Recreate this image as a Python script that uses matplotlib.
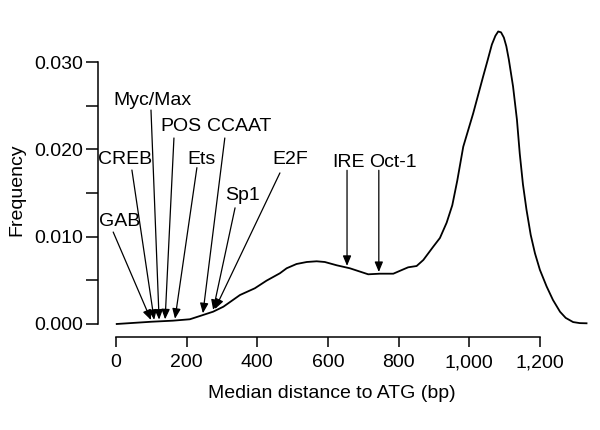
import numpy as np
import matplotlib
matplotlib.use("Agg")
import matplotlib.pyplot as plt

plt.rcParams['font.family'] = ['Liberation Sans', 'DejaVu Sans']

# Density curve: median distance to ATG (bp) vs frequency
dist = [2, 101, 161, 209, 238, 275, 304, 351, 393, 426, 464, 483, 511, 540,
        568, 591, 625, 662, 714, 747, 785, 809, 827, 851, 870, 898, 917, 936,
        952, 966, 983, 1011, 1039, 1052, 1064, 1074, 1082, 1090, 1098, 1105,
        1112, 1124, 1135, 1143, 1152, 1162, 1174, 1186, 1200, 1219, 1237, 1257,
        1273, 1294, 1313, 1332]
freq = [0.0, 0.00026, 0.00038, 0.00054, 0.00092, 0.00141, 0.00198, 0.00332,
        0.00409, 0.00496, 0.00581, 0.00638, 0.00687, 0.00710, 0.00718, 0.00710,
        0.00672, 0.00638, 0.00569, 0.00576, 0.00576, 0.00618, 0.00649, 0.00664,
        0.00733, 0.00885, 0.00985, 0.01160, 0.01360, 0.01640, 0.0203, 0.0241,
        0.0283, 0.0302, 0.0320, 0.0330, 0.0335, 0.0334, 0.0328, 0.0318, 0.0303,
        0.0272, 0.0234, 0.0195, 0.0160, 0.0131, 0.0102, 0.0081, 0.0062, 0.0043,
        0.00275, 0.0014, 0.0007, 0.00022, 0.0001, 0.00008]

# Motifs and their median distances
motifs = ['GAB', 'CREB', 'Myc/Max', 'POS', 'Ets', 'CCAAT', 'Sp1', 'E2F', 'IRE', 'Oct-1']
motif_dist = [99, 108, 122, 139, 167, 246, 275, 280, 654, 744]

x_ticks = [0, 200, 400, 600, 800, 1000, 1200]
x_ticklabels = ['0', '200', '400', '600', '800', '1,000', '1,200']
y_ticks = [0.0, 0.010, 0.020, 0.030]
y_ticklabels = ['0.000', '0.010', '0.020', '0.030']

# Layout: label centres and arrow tails (data coords)
label_pos = [(10, 0.01168), (27, 0.01878), (102, 0.02565), (184, 0.02259),
             (243, 0.01878), (348, 0.02259), (358, 0.01477), (492, 0.01878),
             (659, 0.01855), (784, 0.01855)]
tail_pos = [(-8, 0.01053), (45, 0.01763), (99, 0.0245), (164, 0.0213),
            (229, 0.0179), (308, 0.0213), (337, 0.0133), (464, 0.0173),
            (654, 0.0176), (744, 0.0176)]

FS = 14

fig = plt.figure(figsize=(6, 4.3), dpi=100)
ax = fig.add_axes([98/600, 1 - 337/430, (595-98)/600, (337-25)/430])

ax.plot(dist, freq, color='black', lw=1.3, solid_joinstyle='round')

ax.set_xlim(-51, 1356)
ax.set_ylim(-0.00149, 0.03424)

for name, d, (lx, ly), (tx, ty) in zip(motifs, motif_dist, label_pos, tail_pos):
    tip_y = np.interp(d, dist, freq) + 0.0002
    ax.annotate('', xy=(d, tip_y), xytext=(tx, ty),
                arrowprops=dict(arrowstyle='-|>,head_length=0.6,head_width=0.25',
                                mutation_scale=10, lw=0.9, color='black',
                                shrinkA=0, shrinkB=0))
    ax.text(lx, ly, name, ha='center', va='center', fontsize=FS)

for s in ['top', 'right']:
    ax.spines[s].set_visible(False)
ax.spines['left'].set_bounds(0, 0.030)
ax.spines['bottom'].set_bounds(0, 1200)
for s in ['left', 'bottom']:
    ax.spines[s].set_linewidth(1.1)

ax.set_xticks(x_ticks)
ax.set_xticklabels(x_ticklabels)
ax.set_yticks(y_ticks)
ax.set_yticklabels(y_ticklabels)
ax.set_yticks([0.005, 0.015, 0.025], minor=True)
ax.tick_params(axis='y', which='both', direction='out', length=9, width=1.1,
               pad=2, labelsize=FS)
ax.tick_params(axis='x', which='both', direction='out', length=7.5, width=1.1,
               pad=5, labelsize=FS)

fig.text(332/600, 1 - 393/430, 'Median distance to ATG (bp)', ha='center',
         va='center', fontsize=FS)
fig.text(17/600, 1 - 190/430, 'Frequency', ha='center', va='center',
         rotation=90, fontsize=FS)

fig.savefig('out.png', dpi=100)
